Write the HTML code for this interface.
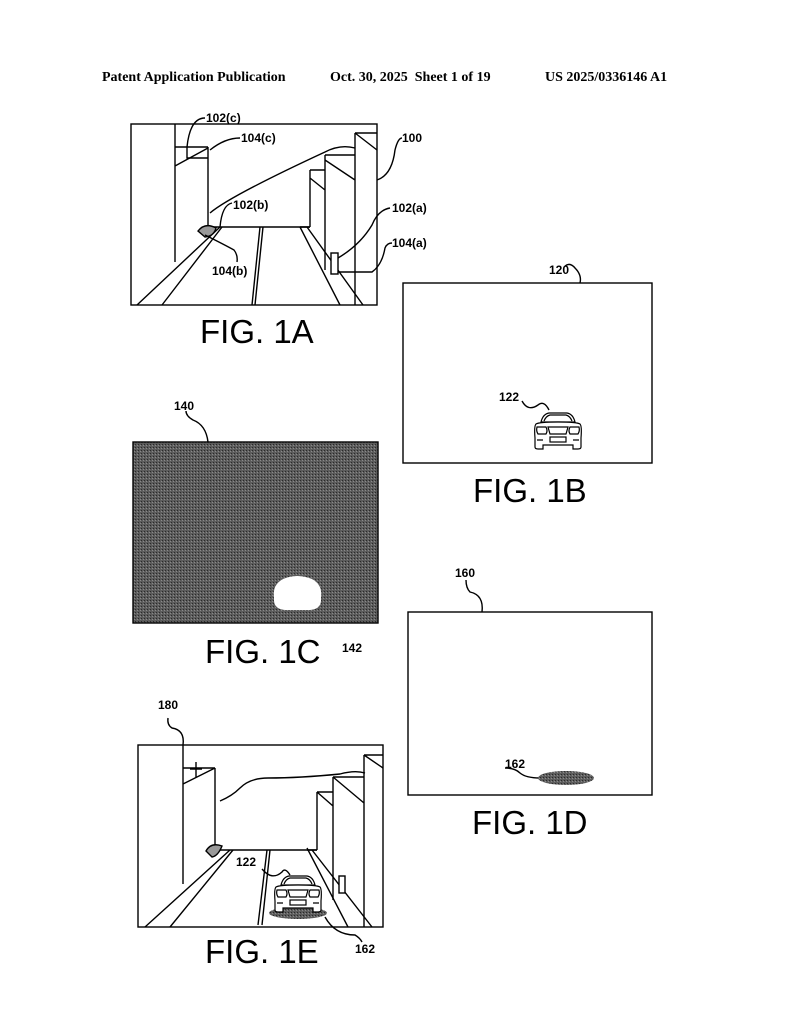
<!DOCTYPE html>
<html><head><meta charset="utf-8"><style>
html,body{margin:0;padding:0;background:#fff}
svg{display:block}
.h{font-family:"Liberation Serif",serif;font-weight:bold;font-size:14px}
.l{font-family:"Liberation Sans",sans-serif;font-weight:bold;font-size:12px}
.f{font-family:"Liberation Sans",sans-serif;font-size:33px}
</style></head><body>
<svg width="794" height="1024" viewBox="0 0 794 1024" xmlns="http://www.w3.org/2000/svg">
<defs>
<pattern id="st" width="3" height="3" patternUnits="userSpaceOnUse"><rect width="3" height="3" fill="#5c5c5c"/><rect width="1" height="1" fill="#2a2a2a"/><rect x="2" y="1" width="1" height="1" fill="#8a8a8a"/></pattern>
<g id="car" fill="none" stroke="#000" stroke-width="1.2">
<path d="M8 10 Q10 2 16 1 L34 1 Q40 2 42 10 Z" fill="#fff"/>
<path d="M11 9 Q13 4 17 3 L33 3 Q37 4 39 9"/>
<path d="M3 12 Q1 14 2 26 L2 35 Q2 37 5 37 L10 37 L10 33 L40 33 L40 37 L45 37 Q48 37 48 35 L48 26 Q49 14 47 12 Q44 10 25 10 Q6 10 3 12 Z" fill="#fff"/>
<path d="M4 15 L13 15 Q15 19 13 22 L5 22 Q3 19 4 15 Z"/>
<path d="M46 15 L37 15 Q35 19 37 22 L45 22 Q47 19 46 15 Z"/>
<path d="M15 15 L35 15 L33 22 L17 22 Z"/>
<rect x="17" y="25" width="16" height="5"/>
<path d="M4 28 L10 28 M40 28 L46 28"/>
</g>
</defs>
<g stroke="#000" fill="none" stroke-width="1.4">
<!-- FIG 1A -->
<rect x="131" y="124" width="246" height="181"/>
<path d="M175 124 V262 M208 147 V227 M175 147 H208 M175 166 L208 148 M208 227 H310 M310 170 V227 M325 155 V270 M355 133 V305 M310 170 H325 L325 183 M310 178 L325 190 M325 155 H355 L355 180 M325 160 L355 180 M355 133 H377 M355 133 L377 150"/>
<path d="M137 305 L220 227 M162 305 L222 227 M252 305 L260 227 M255 305 L263 227 M340 305 L300 227 M363 305 L307 227 M300 227 H310"/>
<path d="M198 231 Q205 222 216 228 Q214 236 205 237 Z" fill="#999"/>
<rect x="331" y="253" width="7" height="21" fill="#fff"/>
<path d="M187 147 V158 H208"/>
<path d="M187 147 Q190 118 205 118" />
<path d="M210 150 Q225 138 240 138"/>
<path d="M210 213 Q230 196 325 152 Q340 144 355 148"/>
<path d="M377 180 Q392 175 395 150 Q398 138 402 138"/>
<path d="M220 227 Q222 205 232 203"/>
<path d="M205 235 Q225 245 234 250 Q238 255 237 262"/>
<path d="M338 258 Q360 245 372 225 Q378 210 390 208"/>
<path d="M338 272 H372 Q382 265 385 248 Q387 243 392 243"/>
<!-- FIG 1B -->
<rect x="403" y="283" width="249" height="180"/>
<path d="M580 283 Q582 275 575 268 Q570 262 565 266"/>
<path d="M522 401 Q528 412 538 405 Q544 400 549 410"/>
<!-- FIG 1C -->
<rect x="133" y="442" width="245" height="181" fill="url(#st)"/>
<path d="M208 442 Q206 425 193 420 Q186 416 186 411"/>
<!-- FIG 1D -->
<rect x="408" y="612" width="244" height="183"/>
<path d="M482 612 Q484 595 470 592 Q466 588 466 580"/>
<path d="M505 768 Q515 768 520 773 Q526 778 540 778"/>
<!-- FIG 1E -->
<rect x="138" y="745" width="245" height="182"/>
<path d="M183 745 V884 M215 768 V850 M183 768 H215 M183 784 L215 768 M196 762 V778 M190 769 H202 M215 850 H317 M317 792 V850 M333 777 V900 M364 755 V927 M317 792 H333 M317 792 L333 806 M333 777 H364 M333 777 L364 803 M364 755 H383 M364 755 L383 768"/>
<path d="M145 927 L230 850 M170 927 L233 850 M258 925 L267 850 M262 925 L270 850 M348 927 L307 848 M372 927 L312 850 M307 850 H317"/>
<path d="M206 851 Q211 842 222 846 Q218 856 212 857 Z" fill="#999"/>
<rect x="339" y="876" width="6" height="17" fill="#fff"/>
<path d="M220 801 Q232 796 240 788 Q250 778 268 778 Q300 778 340 774 Q355 770 365 773"/>
<path d="M183 745 Q185 730 172 728 Q167 725 168 718"/>
<path d="M262 869 Q272 881 282 872 Q285 867 290 875"/>
<path d="M325 917 Q335 935 355 935 Q360 938 362 942"/>
</g>
<ellipse cx="566" cy="778" rx="28" ry="7" fill="url(#st)"/>
<ellipse cx="298" cy="913" rx="29" ry="6" fill="url(#st)"/>
<path d="M274 598 Q272 585 283 579 Q297 573 312 579 Q323 585 321 598 Q322 609 310 610 L285 610 Q273 609 274 598 Z" fill="#fff"/>
<use href="#car" x="533" y="412"/>
<use href="#car" x="273" y="875"/>
<text class="h" x="102" y="81">Patent Application Publication</text>
<text class="h" x="330" y="81">Oct. 30, 2025&#160;&#160;Sheet 1 of 19</text>
<text class="h" x="545" y="81">US 2025/0336146 A1</text>
<text class="l" x="206" y="122">102(c)</text>
<text class="l" x="241" y="142">104(c)</text>
<text class="l" x="402" y="142">100</text>
<text class="l" x="233" y="209">102(b)</text>
<text class="l" x="212" y="275">104(b)</text>
<text class="l" x="392" y="212">102(a)</text>
<text class="l" x="392" y="247">104(a)</text>
<text class="f" x="200" y="343">FIG. 1A</text>
<text class="l" x="549" y="274">120</text>
<text class="l" x="499" y="401">122</text>
<text class="f" x="473" y="502">FIG. 1B</text>
<text class="l" x="174" y="410">140</text>
<text class="l" x="342" y="652">142</text>
<text class="f" x="205" y="663">FIG. 1C</text>
<text class="l" x="455" y="577">160</text>
<text class="l" x="505" y="768">162</text>
<text class="f" x="472" y="834">FIG. 1D</text>
<text class="l" x="158" y="709">180</text>
<text class="l" x="236" y="866">122</text>
<text class="l" x="355" y="953">162</text>
<text class="f" x="205" y="963">FIG. 1E</text>
</svg>
</body></html>
